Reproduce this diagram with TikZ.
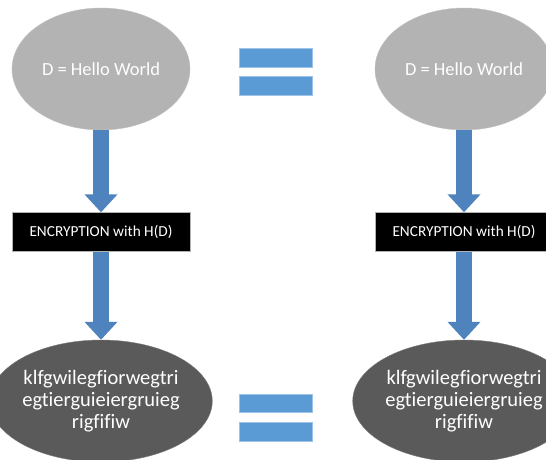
\documentclass[tikz,border=0pt]{standalone}
\usepackage{fontspec}
\setmainfont[Ligatures=NoCommon]{Carlito}
\usetikzlibrary{arrows.meta,shapes.geometric}
\definecolor{lgray}{HTML}{B3B3B3}
\definecolor{dgray}{HTML}{5A5A5A}
\definecolor{arrblue}{HTML}{4F83BE}
\definecolor{eqblue}{HTML}{5B9BD5}
\tikzset{
  topell/.style={ellipse, fill=lgray, draw=lgray!80, minimum width=178pt, minimum height=122pt, inner sep=0pt, text=white, font=\fontsize{18.5}{21}\selectfont},
  botell/.style={ellipse, fill=dgray, draw=dgray!80, minimum width=178pt, minimum height=122pt, inner sep=0pt, text=white, align=center, font=\fontsize{20.5}{22}\selectfont},
  encbox/.style={rectangle, fill=black, draw=gray!60, minimum width=178pt, minimum height=39pt, inner sep=0pt, text=white, font=\fontsize{15.3}{17}\selectfont},
  blockarrow/.style={draw=arrblue, line width=16pt, -{Triangle[width=32pt,length=18pt]}},
  eqbar/.style={rectangle, fill=eqblue, draw=eqblue!60!white, minimum width=73pt, minimum height=18.5pt, inner sep=0pt}
}
\begin{document}
\begin{tikzpicture}[x=1pt,y=-1pt]
\useasboundingbox (0,0) rectangle (546,459);
% left column
\node[topell] (d1) at (101,69) {D = Hello World};
\node[encbox] (e1) at (101,232) {ENCRYPTION with H(D)};
\node[botell] (c1) at (101,401) {klfgwilegfiorwegtri\\egtierguieiergruieg\\rigfifiw};
% right column
\node[topell] (d2) at (464,69) {D = Hello World};
\node[encbox] (e2) at (464,232) {ENCRYPTION with H(D)};
\node[botell] (c2) at (464,401) {klfgwilegfiorwegtri\\egtierguieiergruieg\\rigfifiw};
% arrows
\draw[blockarrow] (d1.south) -- (e1.north);
\draw[blockarrow] (e1.south) -- (c1.north);
\draw[blockarrow] (d2.south) -- (e2.north);
\draw[blockarrow] (e2.south) -- (c2.north);
% equals signs
\node[eqbar] (eqt1) at (275.5,57.5) {};
\node[eqbar] (eqt2) at (275.5,85.5) {};
\node[eqbar] (eqb1) at (275.5,403) {};
\node[eqbar] (eqb2) at (275.5,431.5) {};
\end{tikzpicture}
\end{document}
